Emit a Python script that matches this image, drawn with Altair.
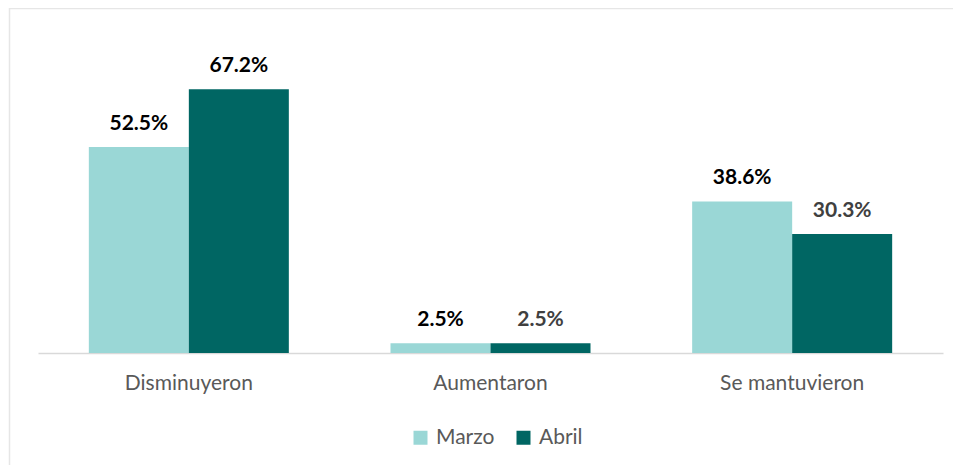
import altair as alt
import pandas as pd

categorias = ["Disminuyeron", "Aumentaron", "Se mantuvieron"]
series = ["Marzo", "Abril"]
marzo = [52.5, 2.5, 38.6]
abril = [67.2, 2.5, 30.3]
colores = ["#9ad7d6", "#006663"]

rows = []
for c, m, a in zip(categorias, marzo, abril):
    rows.append({"Categoria": c, "Serie": "Marzo", "Valor": m})
    rows.append({"Categoria": c, "Serie": "Abril", "Valor": a})
df = pd.DataFrame(rows)

FONT = "Lato"

base = alt.Chart(df).transform_calculate(
    label="format(datum.Valor, '.1f') + '%'"
).encode(
    x=alt.X(
        "Categoria:N",
        sort=categorias,
        scale=alt.Scale(paddingInner=0.337, paddingOuter=0.1685),
        axis=alt.Axis(
            title=None, labelAngle=0, ticks=False, labelPadding=19,
            labelFontSize=21, labelColor="#595959", labelFont=FONT,
            domainColor="#d9d9d9", domainWidth=1.5, grid=False,
        ),
    ),
    xOffset=alt.XOffset("Serie:N", sort=series, scale=alt.Scale(paddingInner=0, paddingOuter=0)),
    y=alt.Y("Valor:Q", scale=alt.Scale(domain=[0, 80]), axis=None),
)

bars = base.mark_bar().encode(
    color=alt.Color(
        "Serie:N",
        sort=series,
        scale=alt.Scale(domain=series, range=colores),
        legend=alt.Legend(
            title=None, orient="none", legendX=372, legendY=388,
            direction="horizontal", symbolType="square", symbolSize=196,
            symbolStrokeWidth=0, labelFontSize=21, labelColor="#595959",
            labelFont=FONT, columnPadding=18, labelOffset=5,
        ),
    )
)

text = base.mark_text(
    baseline="alphabetic", dy=-17, fontSize=21, fontWeight="bold", font=FONT
).encode(
    text="label:N",
    color=alt.condition(
        "datum.Serie == 'Abril' && datum.Valor < 50",
        alt.value("#404040"),
        alt.value("#000000"),
    ),
)

frame_df = pd.DataFrame({"k": [0]})
top_border = alt.Chart(frame_df).mark_rule(color="#e6e6e6", strokeWidth=1.5).encode(
    x=alt.value(-29), x2=alt.value(915), y=alt.value(-30.5)
)
left_border = alt.Chart(frame_df).mark_rule(color="#e6e6e6", strokeWidth=1.5).encode(
    x=alt.value(-28.5), y=alt.value(-31), y2=alt.value(430)
)

chart = alt.layer(bars, text, top_border, left_border).properties(
    width=905, height=314,
    autosize=alt.AutoSizeParams(type="none"),
    padding={"left": 30, "top": 31, "right": 10, "bottom": 112},
).configure_view(stroke=None)

chart.save("out.html", embed_options={"renderer": "svg", "actions": False})
